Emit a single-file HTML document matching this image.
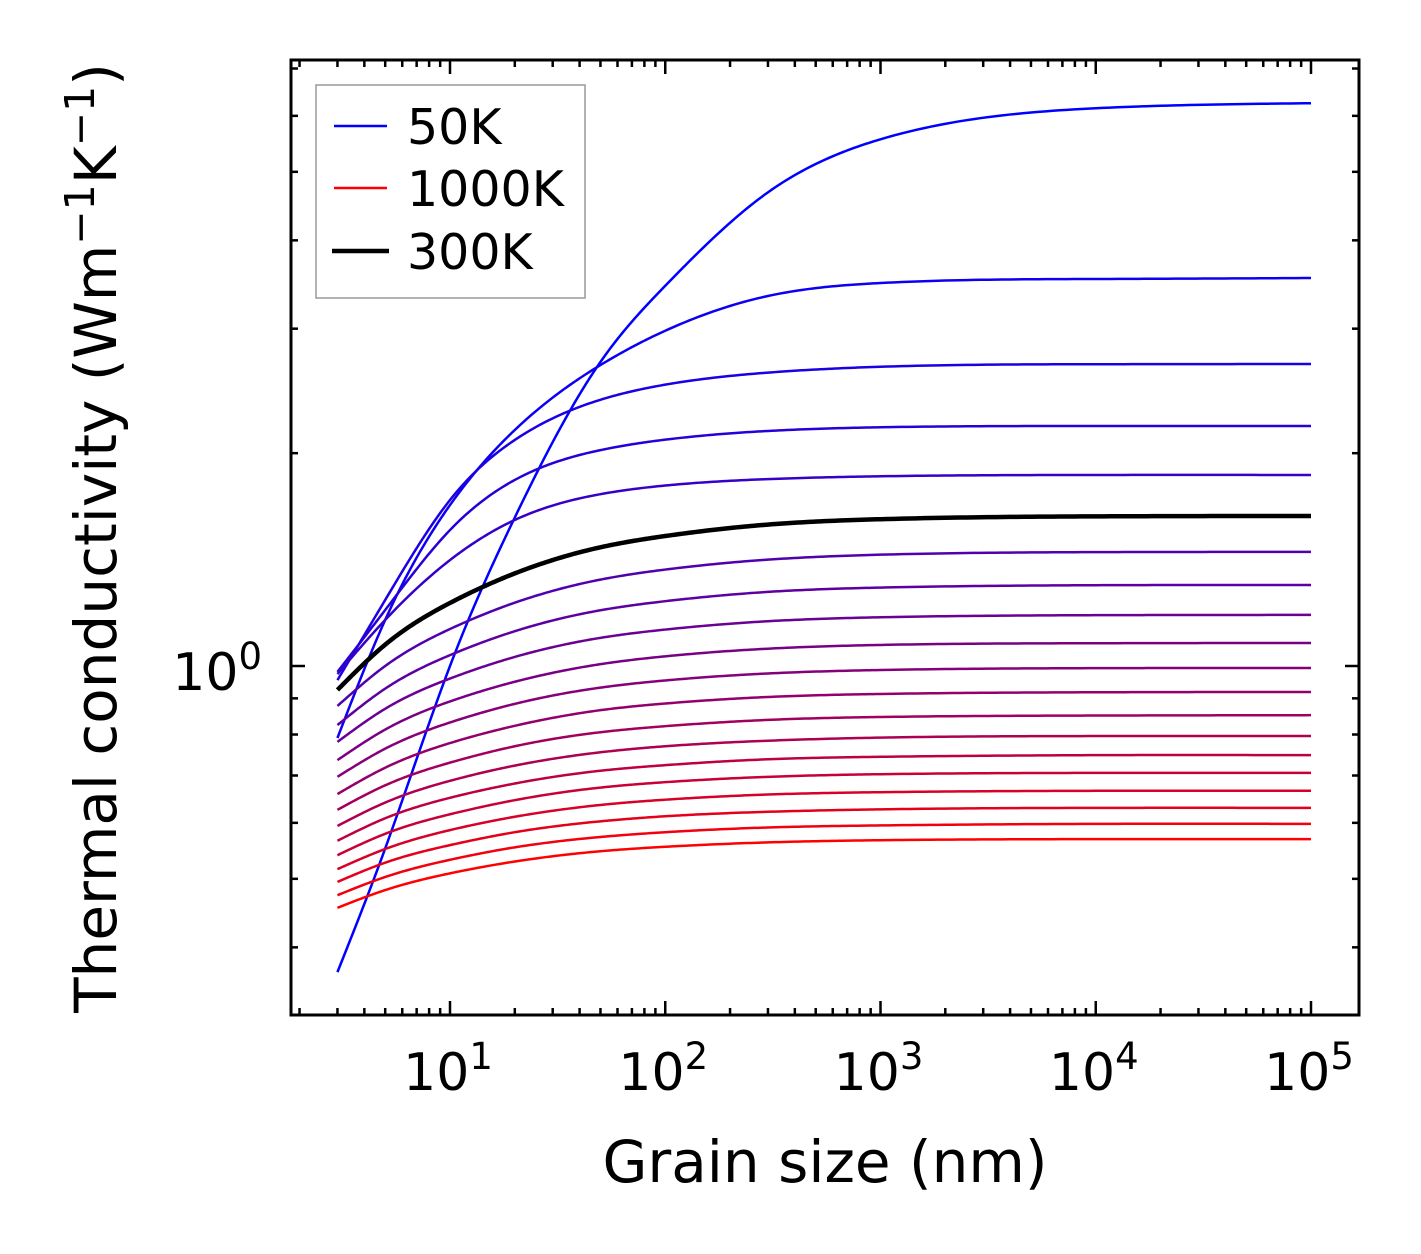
<!DOCTYPE html>
<html><head><meta charset="utf-8"><style>
html,body{margin:0;padding:0;background:#fff;}
svg{display:block;font-family:"DejaVu Sans","Liberation Sans",sans-serif;}
</style></head><body>
<svg id="chart" width="1421" height="1254" viewBox="0 0 1421 1254" xmlns="http://www.w3.org/2000/svg">
<rect width="1421" height="1254" fill="#fff"/>
<g id="curves"></g>
<g id="ticks"></g>
<rect x="291" y="60" width="1068" height="955" fill="none" stroke="#000" stroke-width="3"/>
<g id="xlabels"></g>
<text x="262" y="690" font-size="52" text-anchor="end">10<tspan font-size="37" dy="-21">0</tspan></text>
<text x="825" y="1182" font-size="58" text-anchor="middle">Grain size (nm)</text>
<text transform="translate(116,538) rotate(-90)" font-size="58" text-anchor="middle">Thermal conductivity (Wm<tspan font-size="41" dy="-22">−1</tspan><tspan dy="22">K</tspan><tspan font-size="41" dy="-22">−1</tspan><tspan dy="22">)</tspan></text>
<g>
<rect x="316" y="85" width="269" height="213" fill="#fff" fill-opacity="0.8" stroke="#999" stroke-width="1.5"/>
<line x1="334" y1="126" x2="387" y2="126" stroke="#0000ff" stroke-width="2.5"/>
<text x="407" y="144" font-size="49">50K</text>
<line x1="334" y1="188" x2="387" y2="188" stroke="#ff0000" stroke-width="2.5"/>
<text x="407" y="206" font-size="49">1000K</text>
<line x1="332" y1="251" x2="389" y2="251" stroke="#000" stroke-width="4.5"/>
<text x="407" y="269" font-size="49">300K</text>
</g>
</svg>
<script>
const grainSizes = [3, 5, 10, 20, 50, 100, 300, 1000, 10000, 100000];
const temperatures = [50,100,150,200,250,300,350,400,450,500,550,600,650,700,750,800,850,900,950,1000];
const k50 = [0.369,0.552,1.000,1.622,2.692,3.450,4.677,5.559,6.150,6.252];
const k100 = [0.791,1.162,1.689,2.157,2.665,2.980,3.337,3.481,3.527,3.538];
const k150 = [0.955,1.240,1.717,2.088,2.380,2.500,2.600,2.650,2.672,2.674];
const k200 = [0.981,1.200,1.557,1.833,2.020,2.090,2.150,2.176,2.185,2.185];
const k250 = [0.974,1.162,1.412,1.609,1.750,1.800,1.838,1.855,1.863,1.863];
const k300 = [0.925,1.072,1.228,1.352,1.472,1.527,1.585,1.613,1.628,1.630];
const k350 = [0.878,1.000,1.128,1.229,1.325,1.369,1.414,1.437,1.449,1.450];
const k400 = [0.825,0.929,1.036,1.120,1.199,1.235,1.273,1.291,1.301,1.302];
const k450 = [0.781,0.870,0.960,1.030,1.096,1.126,1.157,1.172,1.180,1.181];
const k500 = [0.736,0.813,0.891,0.950,1.006,1.032,1.058,1.071,1.077,1.078];
const k550 = [0.697,0.764,0.832,0.884,0.932,0.954,0.976,0.987,0.993,0.9935];
const k600 = [0.659,0.718,0.778,0.823,0.866,0.885,0.904,0.913,0.918,0.919];
const k650 = [0.626,0.678,0.730,0.770,0.806,0.822,0.839,0.847,0.851,0.852];
const k700 = [0.594,0.641,0.688,0.723,0.755,0.770,0.784,0.792,0.796,0.796];
const k750 = [0.566,0.609,0.651,0.682,0.711,0.724,0.738,0.744,0.748,0.748];
const k800 = [0.540,0.579,0.617,0.646,0.673,0.685,0.697,0.703,0.706,0.706];
const k850 = [0.516,0.551,0.586,0.612,0.636,0.647,0.658,0.663,0.666,0.666];
const k900 = [0.495,0.527,0.558,0.582,0.603,0.613,0.622,0.627,0.630,0.630];
const k950 = [0.474,0.503,0.532,0.554,0.573,0.582,0.591,0.595,0.598,0.598];
const k1000 = [0.455,0.482,0.509,0.529,0.547,0.555,0.563,0.567,0.569,0.569];
const xTickLabels = ["1","2","3","4","5"];
const series = [k50,k100,k150,k200,k250,k300,k350,k400,k450,k500,k550,k600,k650,k700,k750,k800,k850,k900,k950,k1000];

const NS = "http://www.w3.org/2000/svg";
function xScale(d){ return 450 + (Math.log10(d) - 1) * 215.25; }
function yScale(v){ return 666 - Math.log10(v) * 707; }

function splinePath(xs, ys){
  const n = xs.length, h = [], M = new Array(n).fill(0);
  for (let i=0;i<n-1;i++) h.push(xs[i+1]-xs[i]);
  const a=[],b=[],c=[],r=[];
  for (let i=1;i<n-1;i++){
    a.push(h[i-1]); b.push(2*(h[i-1]+h[i])); c.push(h[i]);
    r.push(6*((ys[i+1]-ys[i])/h[i] - (ys[i]-ys[i-1])/h[i-1]));
  }
  const m = b.length;
  for (let i=1;i<m;i++){ const w=a[i]/b[i-1]; b[i]-=w*c[i-1]; r[i]-=w*r[i-1]; }
  const sol = new Array(m);
  for (let i=m-1;i>=0;i--){ sol[i]=(r[i]-(i<m-1?c[i]*sol[i+1]:0))/b[i]; }
  for (let i=0;i<m;i++) M[i+1]=sol[i];
  let p = "M"+xScale(Math.pow(10,xs[0])).toFixed(2)+","+yScale(Math.pow(10,ys[0])).toFixed(2);
  for (let i=0;i<n-1;i++){
    for (let k=1;k<=30;k++){
      const x = xs[i] + h[i]*k/30;
      const A=(xs[i+1]-x)/h[i], B=(x-xs[i])/h[i];
      const y = A*ys[i]+B*ys[i+1]+((A*A*A-A)*M[i]+(B*B*B-B)*M[i+1])*h[i]*h[i]/6;
      p += " L"+xScale(Math.pow(10,x)).toFixed(2)+","+yScale(Math.pow(10,y)).toFixed(2);
    }
  }
  return p;
}

const cg = document.getElementById("curves");
const lx = grainSizes.map(d=>Math.log10(d));
let blackPath = null;
series.forEach((vals, i) => {
  const T = temperatures[i];
  const f = i/(series.length-1);
  const color = T===300 ? "#000" : "rgb("+Math.round(255*f)+",0,"+Math.round(255*(1-f))+")";
  const path = document.createElementNS(NS,"path");
  path.setAttribute("d", splinePath(lx, vals.map(v=>Math.log10(v))));
  path.setAttribute("fill","none");
  path.setAttribute("stroke",color);
  path.setAttribute("stroke-width", T===300 ? "4.5" : "2.5");
  path.setAttribute("stroke-linejoin","round");
  
  
  if (T===300) blackPath = path; else cg.appendChild(path);
});
if (blackPath) cg.appendChild(blackPath);

const tg = document.getElementById("ticks");
function tick(x1,y1,x2,y2,name){
  const l = document.createElementNS(NS,"line");
  l.setAttribute("x1",x1); l.setAttribute("y1",y1); l.setAttribute("x2",x2); l.setAttribute("y2",y2);
  l.setAttribute("stroke","#000"); l.setAttribute("stroke-width","2.5");
  
  
  tg.appendChild(l);
}
for (let e=0;e<=5;e++){
  for (let m=1;m<=9;m++){
    const x = xScale(m*Math.pow(10,e));
    if (x<292 || x>1358) continue;
    const len = m===1 ? 14 : 7;
    tick(x,1015,x,1015-len,'x-tick');
    tick(x,60,x,60+len,'x-tick-top');
  }
}
for (let e=-1;e<=0;e++){
  for (let m=1;m<=9;m++){
    const y = yScale(m*Math.pow(10,e));
    if (y<61 || y>1014) continue;
    const len = (m===1 && e===0) ? 14 : 7;
    tick(291,y,291+len,y,'y-tick');
    tick(1359,y,1359-len,y,'y-tick-right');
  }
}
const xg = document.getElementById("xlabels");
xTickLabels.forEach(lbl => {
  const x = xScale(Math.pow(10, Number(lbl)));
  const t = document.createElementNS(NS,"text");
  t.setAttribute("x", x - 2);
  t.setAttribute("y", 1090);
  t.setAttribute("font-size","52");
  t.setAttribute("text-anchor","middle");
  
  
  t.textContent = "10";
  const s = document.createElementNS(NS,"tspan");
  s.setAttribute("font-size","37");
  s.setAttribute("dy","-21");
  s.textContent = lbl;
  t.appendChild(s);
  xg.appendChild(t);
});
</script>
</body></html>
